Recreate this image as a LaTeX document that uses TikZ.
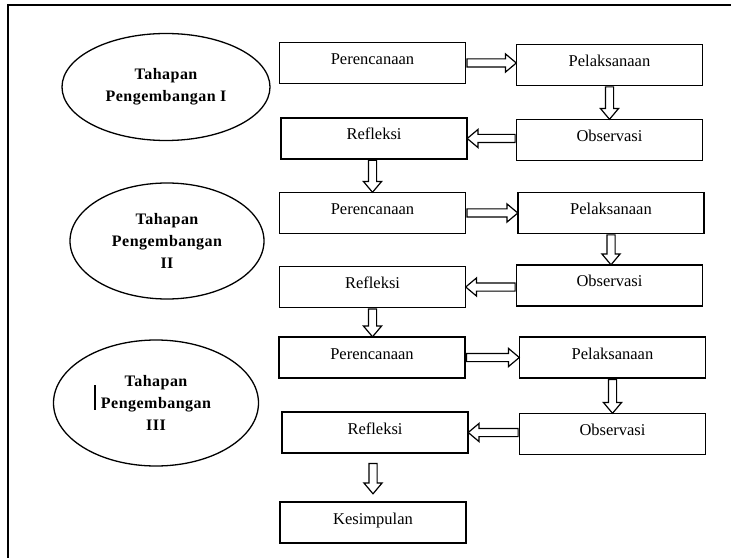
\documentclass[tikz,border=0pt]{standalone}
\usepackage{fontspec}
\setmainfont{Liberation Serif}
\usepackage{tikz}
\usetikzlibrary{shapes.geometric, shapes.arrows, calc}

\tikzset{
  stepbox/.style={draw, line width=1.6bp, minimum width=186bp, inner xsep=0pt, inner ysep=0pt,
    text height=22bp, text depth=19bp, font=\fontsize{16.5bp}{19bp}\selectfont},
  phase/.style={draw, ellipse, line width=1.3bp, inner sep=0pt, align=center,
    font=\fontsize{16bp}{22bp}\selectfont\bfseries\addfontfeatures{LetterSpace=3}},
  blockarrow/.style={to path={
    let \p1=(\tikztostart), \p2=(\tikztotarget),
        \n1={atan2(\y2-\y1,\x2-\x1)}, \n2={veclen(\x2-\x1,\y2-\y1)} in
    node[single arrow, draw, fill=white, line width=1.2bp, inner sep=3.5bp,
      single arrow head extend=5bp, single arrow tip angle=80,
      minimum height=\n2, anchor=tail, rotate=\n1] at (\p1) {}}}
}

\begin{document}
\begin{tikzpicture}[x=1bp, y=-1bp]
\useasboundingbox (0,0) rectangle (731,558);
\clip (0,0) rectangle (731,558);
% frame
\draw[line width=1.6bp] (8,5) rectangle (745,575);

% phases
\node[phase, minimum width=208bp, minimum height=107bp] (e1) at (166,87) {Tahapan\\Pengembangan I};
\node[phase, minimum width=194bp, minimum height=116bp] (e2) at (167,241) {Tahapan\\Pengembangan\\II};
\node[phase, minimum width=205bp, minimum height=126bp] (e3) at (156,403) {Tahapan\\Pengembangan\\III};
\draw[line width=1.8bp] (95,385) -- (95,410);

% cycle I
\node[stepbox] (p1) at (372.5,63) {Perencanaan};
\node[stepbox] (l1) at (609.5,65) {Pelaksanaan};
\node[stepbox] (r1) at (374,138.5) {Refleksi};
\node[stepbox] (o1) at (609.5,140) {Observasi};
% cycle II
\node[stepbox] (p2) at (372.5,213) {Perencanaan};
\node[stepbox] (l2) at (611,213) {Pelaksanaan};
\node[stepbox] (r2) at (372.5,287) {Refleksi};
\node[stepbox] (o2) at (609.5,285.5) {Observasi};
% cycle III
\node[stepbox] (p3) at (372,357.5) {Perencanaan};
\node[stepbox] (l3) at (612.5,357.5) {Pelaksanaan};
\node[stepbox] (r3) at (375,432.5) {Refleksi};
\node[stepbox] (o3) at (612.5,434) {Observasi};
\node[stepbox] (k) at (373,522.5) {Kesimpulan};

\coordinate (k-out) at ($(k.north |- r3.south)+(0,9)$);
\coordinate (k-in) at ($(k.north)+(0,-8)$);

% block arrows
\path[blockarrow] (p1.east) to (p1.east -| l1.west);
\path[blockarrow] (l1.south) to (l1.south |- o1.north);
\path[blockarrow] (o1.west |- r1.east) to (r1.east);
\path[blockarrow] (p2.north |- r1.south) to (p2.north);
\path[blockarrow] (p2.east) to (p2.east -| l2.west);
\path[blockarrow] (l2.south) to (l2.south |- o2.north);
\path[blockarrow] (o2.west |- r2.east) to (r2.east);
\path[blockarrow] (r2.south) to (r2.south |- p3.north);
\path[blockarrow] (p3.east) to (p3.east -| l3.west);
\path[blockarrow] (l3.south) to (l3.south |- o3.north);
\path[blockarrow] (o3.west |- r3.east) to (r3.east);
\path[blockarrow] (k-out) to (k-in);
\end{tikzpicture}
\end{document}
